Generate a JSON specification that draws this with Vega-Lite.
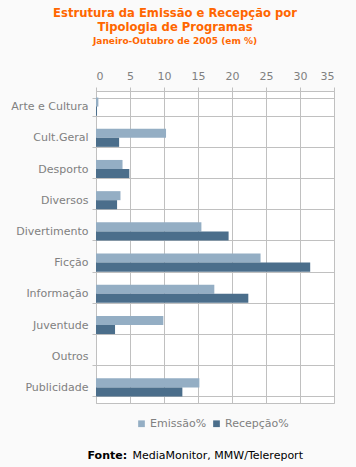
{
  "$schema": "https://vega.github.io/schema/vega-lite/v6.json",
  "width": 238,
  "height": 312,
  "autosize": "none",
  "padding": {"left": 96, "top": 91, "right": 22, "bottom": 64},
  "background": "#fafafa",
  "title": {
    "text": ["Estrutura da Emissão e Recepção por", "Tipologia de Programas"],
    "subtitle": "Janeiro-Outubro de 2005 (em %)",
    "anchor": "middle",
    "dx": -40,
    "offset": 24,
    "font": "DejaVu Sans",
    "fontSize": 11.6,
    "fontWeight": "bold",
    "color": "#ff6600",
    "lineHeight": 14,
    "subtitleFont": "DejaVu Sans",
    "subtitleFontSize": 9,
    "subtitleFontWeight": "bold",
    "subtitleColor": "#ff6600",
    "subtitlePadding": 3
  },
  "data": {
    "values": [
      {"cat": "Arte e Cultura", "serie": "Emissão%", "v": 0.35},
      {"cat": "Arte e Cultura", "serie": "Recepção%", "v": 0.15},
      {"cat": "Cult.Geral", "serie": "Emissão%", "v": 10.3},
      {"cat": "Cult.Geral", "serie": "Recepção%", "v": 3.4},
      {"cat": "Desporto", "serie": "Emissão%", "v": 3.9},
      {"cat": "Desporto", "serie": "Recepção%", "v": 4.9},
      {"cat": "Diversos", "serie": "Emissão%", "v": 3.6},
      {"cat": "Diversos", "serie": "Recepção%", "v": 3.1},
      {"cat": "Divertimento", "serie": "Emissão%", "v": 15.5},
      {"cat": "Divertimento", "serie": "Recepção%", "v": 19.5},
      {"cat": "Ficção", "serie": "Emissão%", "v": 24.2},
      {"cat": "Ficção", "serie": "Recepção%", "v": 31.5},
      {"cat": "Informação", "serie": "Emissão%", "v": 17.4},
      {"cat": "Informação", "serie": "Recepção%", "v": 22.4},
      {"cat": "Juventude", "serie": "Emissão%", "v": 9.9},
      {"cat": "Juventude", "serie": "Recepção%", "v": 2.8},
      {"cat": "Outros", "serie": "Emissão%", "v": 0},
      {"cat": "Outros", "serie": "Recepção%", "v": 0},
      {"cat": "Publicidade", "serie": "Emissão%", "v": 15.2},
      {"cat": "Publicidade", "serie": "Recepção%", "v": 12.7}
    ]
  },
  "config": {
    "view": {"fill": "white", "stroke": "#c0c0c0", "strokeWidth": 1},
    "axis": {
      "labelFont": "DejaVu Sans",
      "labelFontSize": 11,
      "labelColor": "#808080",
      "gridColor": "#c0c0c0",
      "gridOpacity": 1,
      "tickColor": "#c0c0c0",
      "domainColor": "#c0c0c0",
      "tickSize": 4
    }
  },
  "layer": [
    {
      "mark": {"type": "bar"},
      "encoding": {
        "y": {
          "field": "cat",
          "type": "nominal",
          "sort": null,
          "scale": {"paddingInner": 0.42, "paddingOuter": 0.21},
          "axis": {"title": null, "tickBand": "extent", "grid": true, "labelPadding": 4}
        },
        "yOffset": {"field": "serie", "type": "nominal", "sort": ["Emissão%", "Recepção%"], "scale": {"paddingInner": 0}},
        "x": {
          "field": "v",
          "type": "quantitative",
          "scale": {"domain": [0, 35], "nice": false},
          "axis": {"orient": "top", "title": null, "values": [0, 5, 10, 15, 20, 25, 30, 35], "labelPadding": 6, "grid": true}
        },
        "color": {
          "field": "serie",
          "type": "nominal",
          "sort": ["Emissão%", "Recepção%"],
          "scale": {"range": ["#94aec4", "#4b6e8b"]},
          "legend": {
            "title": null,
            "orient": "none",
            "direction": "horizontal",
            "legendX": 40,
            "legendY": 327,
            "symbolType": "square",
            "symbolSize": 45,
            "symbolStrokeWidth": 0,
            "labelFont": "DejaVu Sans",
            "labelFontSize": 11,
            "labelColor": "#808080",
            "labelOffset": 3,
            "columnPadding": 4
          }
        }
      }
    },
    {
      "mark": {"type": "rule", "opacity": 0},
      "encoding": {
        "x": {
          "field": "v",
          "type": "quantitative",
          "axis": {"orient": "bottom", "title": "Fonte:", "labels": false, "ticks": false, "domain": false, "grid": false,
            "titleFont": "DejaVu Sans", "titleFontSize": 11, "titleFontWeight": "bold", "titleColor": "#000000",
            "titleAnchor": "start", "titleAlign": "left", "titleX": -9, "titleY": 52, "titleBaseline": "middle"}
        }
      }
    },
    {
      "mark": {"type": "rule", "opacity": 0},
      "encoding": {
        "x": {
          "field": "v",
          "type": "quantitative",
          "axis": {"orient": "bottom", "title": "MediaMonitor, MMW/Telereport", "labels": false, "ticks": false, "domain": false, "grid": false,
            "titleFont": "DejaVu Sans", "titleFontSize": 11, "titleFontWeight": "normal", "titleColor": "#000000",
            "titleAnchor": "start", "titleAlign": "left", "titleX": 36, "titleY": 52, "titleBaseline": "middle"}
        }
      }
    }
  ],
  "resolve": {"axis": {"x": "independent"}}
}
